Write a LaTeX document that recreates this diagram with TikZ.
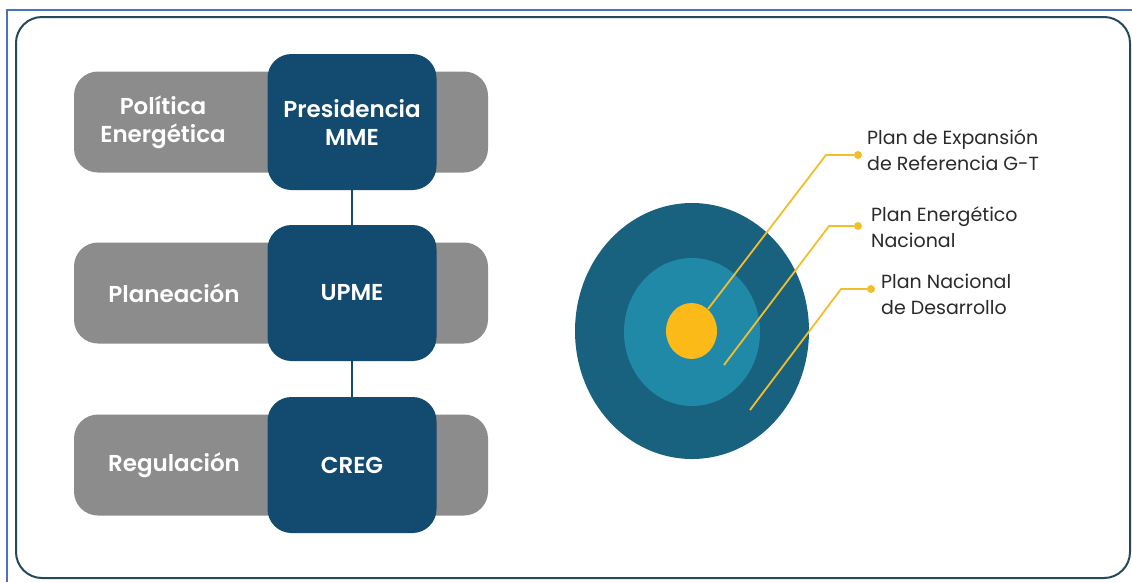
\documentclass[tikz,border=0pt]{standalone}
\usepackage{fontspec}
\setmainfont{Poppins}[BoldFont={Poppins SemiBold}]
\usetikzlibrary{shapes.geometric}

\definecolor{framblue}{HTML}{4A72C2}
\definecolor{panelline}{HTML}{23495A}
\definecolor{bargray}{HTML}{8C8C8C}
\definecolor{orgnavy}{HTML}{134B70}
\definecolor{ringout}{HTML}{18617F}
\definecolor{ringmid}{HTML}{2189A8}
\definecolor{coreyel}{HTML}{FBBA18}
\definecolor{leadyel}{HTML}{F3BE2C}
\definecolor{plantext}{HTML}{2A2A2A}

\tikzset{
  bar/.style={fill=bargray, rounded corners=24pt, minimum width=414pt, minimum height=101pt, inner sep=0pt},
  areatext/.style={text=white, font=\fontsize{23}{28}\selectfont\bfseries, align=center, inner sep=0pt},
  org/.style={fill=orgnavy, rounded corners=24pt, minimum width=169pt, minimum height=136pt, inner sep=0pt,
    text=white, font=\fontsize{23}{28}\selectfont\bfseries, align=center},
  link/.style={orgnavy, line width=2pt},
  lead/.style={leadyel, line width=1.8pt},
  dot/.style={circle, fill=leadyel, inner sep=0pt, minimum size=8pt},
  plantxt/.style={anchor=west, text=plantext, font=\fontsize{19}{26}\selectfont, align=left, inner sep=0pt}
}

\begin{document}
\begin{tikzpicture}[x=1pt, y=-1pt]
  \useasboundingbox (0,0) rectangle (1132,582);
  \fill[white] (0,0) rectangle (1132,582);
  % Frame
  \draw[framblue, line width=1.5pt] (1132,10) -- (7,10) -- (7,582);
  \draw[panelline, line width=2pt, rounded corners=26pt] (16,17) rectangle (1130,578);
  % Areas and organisations
  \foreach \n/\x/\y/\area/\org in {pol/163/122/{Política\\Energética}/{Presidencia\\MME},
                                   pla/174/293/{Planeación}/{UPME},
                                   reg/174/465/{Regulación}/{CREG}} {
    \node[bar] (\n-bar) at (281,\y) {};
    \node[areatext] (\n-area) at (\x,\y) {\area};
    \node[org] (\n-org) at (352,\y) {\org};
  }
  \draw[link] (pol-org) -- (pla-org);
  \draw[link] (pla-org) -- (reg-org);
  % Plans
  \fill[ringout] (692,331) ellipse (117pt and 128pt);
  \fill[ringmid] (692,332) ellipse (68pt and 74pt);
  \fill[coreyel] (691.5,331) ellipse (25.5pt and 28pt);
  \coordinate (g-end) at (708,309);
  \coordinate (g-bend) at (826,155);
  \node[dot] (g-dot) at (858,155) {};
  \coordinate (e-end) at (724,365);
  \coordinate (e-bend) at (829,226);
  \node[dot] (e-dot) at (858,226) {};
  \coordinate (d-end) at (750,410);
  \coordinate (d-bend) at (841,289);
  \node[dot] (d-dot) at (871,289) {};
  \draw[lead] (g-end) -- (g-bend) -- (g-dot);
  \draw[lead] (e-end) -- (e-bend) -- (e-dot);
  \draw[lead] (d-end) -- (d-bend) -- (d-dot);
  \node[plantxt] (g-txt) at (867,150) {Plan de Expansión\\de Referencia G-T};
  \node[plantxt] (e-txt) at (871,227) {Plan Energético\\Nacional};
  \node[plantxt] (d-txt) at (881,294) {Plan Nacional\\de Desarrollo};
\end{tikzpicture}
\end{document}
